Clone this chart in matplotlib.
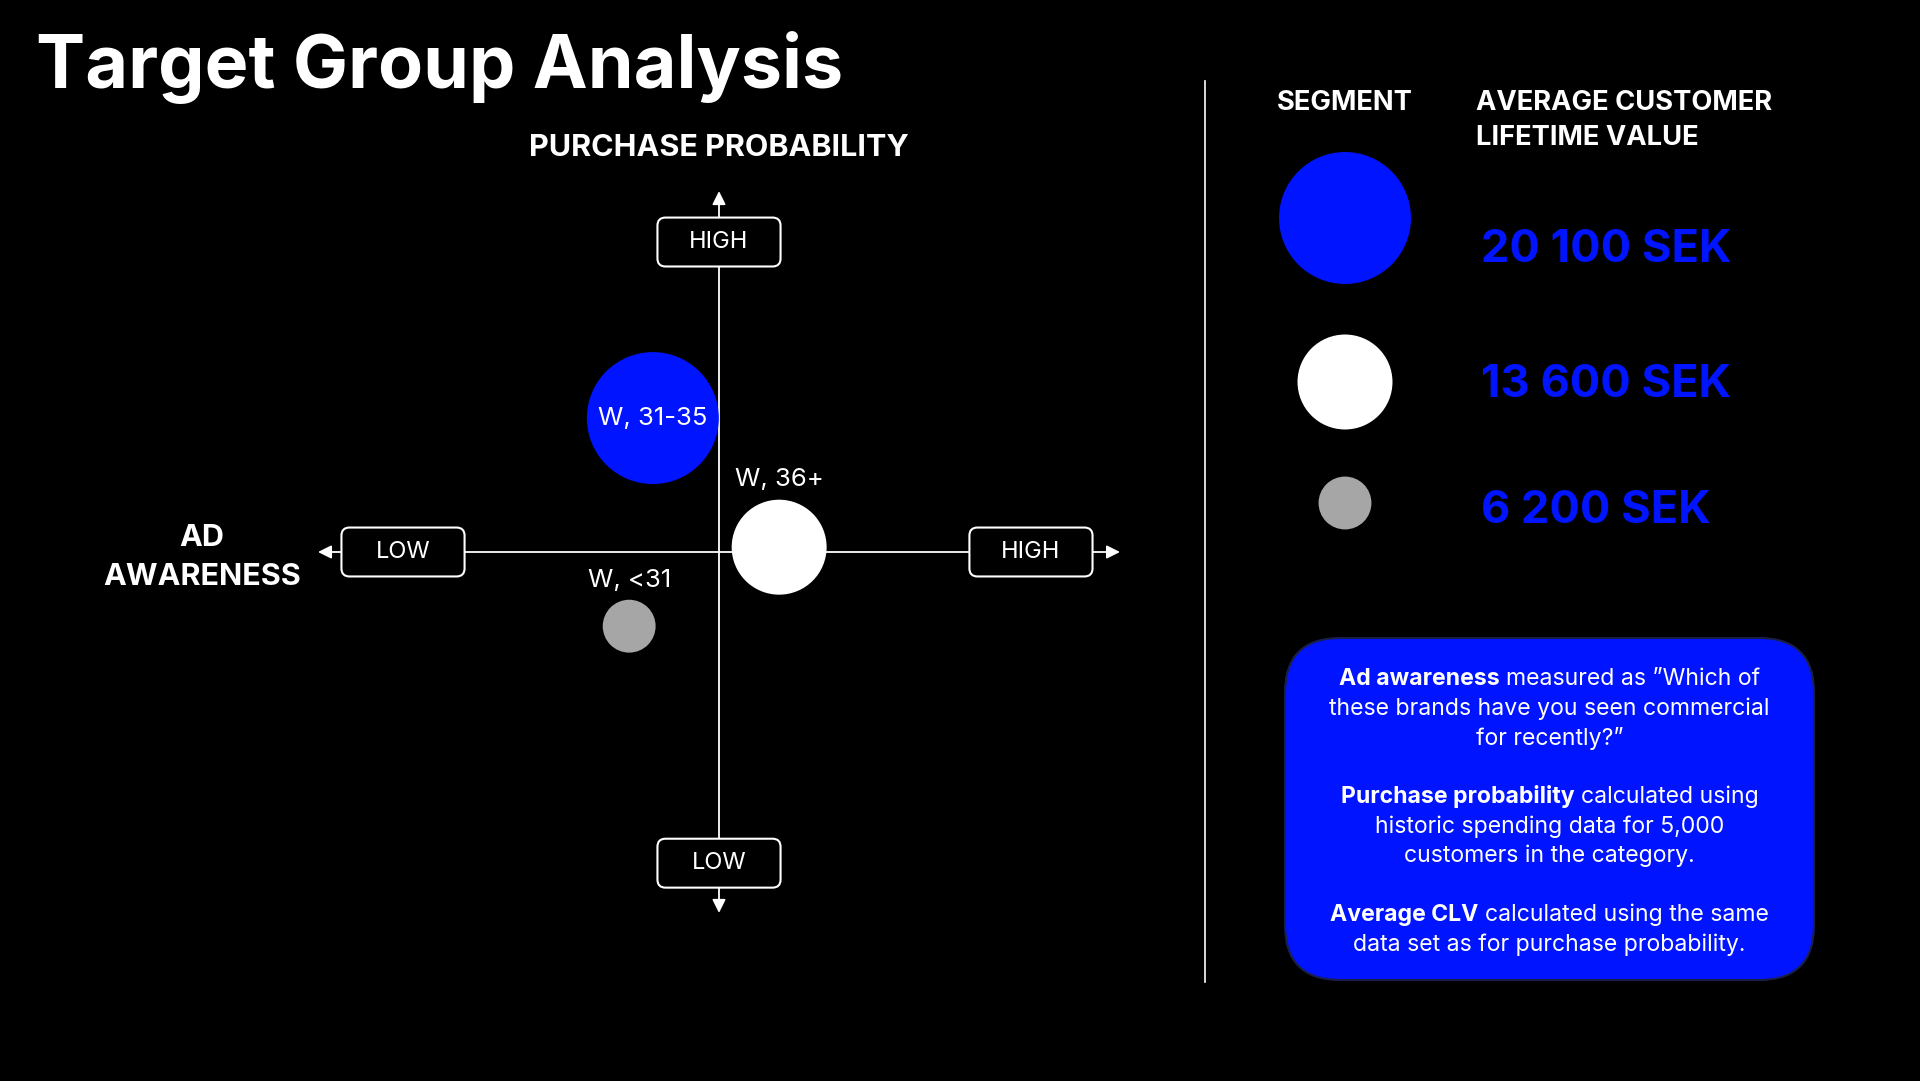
import matplotlib
matplotlib.use('Agg')
import matplotlib.pyplot as plt
from matplotlib.patches import FancyBboxPatch

plt.rcParams['font.family'] = ['Inter', 'DejaVu Sans']

# segments on the quadrant chart
segments = ['W, 31-35', 'W, 36+', 'W, <31']
ad_awareness = [-0.165, 0.15, -0.224]     # x, 0 = middle
purchase_prob = [0.334, 0.012, -0.185]    # y, 0 = middle
clv_sek = [20100, 13600, 6200]
clv_labels = ['20 100 SEK', '13 600 SEK', '6 200 SEK']
seg_colors = ['#0014FF', '#FFFFFF', '#A6A6A6']

BLUE = '#0014FF'

# note lines in the blue box: (bold part, regular part)
notes = [
    ('Ad awareness', 'measured as \u201dWhich of'),
    ('', 'these brands have you seen commercial'),
    ('', 'for recently?\u201d'),
    None,
    ('Purchase probability', 'calculated using'),
    ('', 'historic spending data for 5,000'),
    ('', 'customers in the category.'),
    None,
    ('Average CLV', 'calculated using the same'),
    ('', 'data set as for purchase probability.'),
]


def bubble_size(v):
    # diameter in px grows with CLV
    d_px = 17.6 + 0.00569 * v
    d_pt = d_px * 72 / 100
    return d_pt ** 2


fig = plt.figure(figsize=(19.2, 10.81), dpi=100, facecolor='black')

# background axes in pixel coords for the layout
bg = fig.add_axes([0, 0, 1, 1])
bg.set_xlim(0, 1920)
bg.set_ylim(1081, 0)
bg.axis('off')

# quadrant axes
ax = fig.add_axes([318 / 1920, 128 / 1081, 802 / 1920, 802 / 1081])
ax.set_xlim(-1, 1)
ax.set_ylim(-1, 1)
ax.axis('off')
ax.patch.set_alpha(0)

#########################################################################
# title + axis titles
#########################################################################
bg.text(36, 68, 'Target Group Analysis', color='white', fontsize=53,
        fontweight='bold', ha='left', va='center')
bg.text(719, 148, 'PURCHASE PROBABILITY', color='white', fontsize=22,
        fontweight='bold', ha='center', va='center')
bg.text(202, 538, 'AD', color='white', fontsize=22, fontweight='bold',
        ha='center', va='center')
bg.text(202, 577, 'AWARENESS', color='white', fontsize=22, fontweight='bold',
        ha='center', va='center')

#########################################################################
# quadrant
#########################################################################
arrow = dict(arrowstyle='<|-|>,head_length=0.5,head_width=0.25', color='white',
             lw=1.3, shrinkA=0, shrinkB=0, mutation_scale=16)
ax.annotate('', xy=(1.0, 0), xytext=(-1.0, 0), arrowprops=arrow, zorder=1)
ax.annotate('', xy=(0, 0.9), xytext=(0, -0.9), arrowprops=arrow, zorder=1)

bw, bh = 0.307, 0.122
for label, cx, cy in [('HIGH', 0, 0.773), ('LOW', 0, -0.776),
                      ('LOW', -0.788, 0), ('HIGH', 0.778, 0)]:
    ax.add_patch(FancyBboxPatch((cx - bw / 2, cy - bh / 2), bw, bh,
                                boxstyle='round,pad=0,rounding_size=0.02',
                                fc='black', ec='white', lw=1.5, zorder=3))
    ax.text(cx, cy, label, color='white', fontsize=17, ha='center',
            va='center', zorder=4)

ax.scatter(ad_awareness, purchase_prob, s=[bubble_size(v) for v in clv_sek],
           c=seg_colors, linewidths=0, zorder=5)

ax.text(ad_awareness[0], purchase_prob[0], segments[0], color='white',
        fontsize=18.5, ha='center', va='center', zorder=6)
ax.text(ad_awareness[1], 0.182, segments[1], color='white', fontsize=18.5,
        ha='center', va='center', zorder=6)
ax.text(ad_awareness[2], -0.07, segments[2], color='white', fontsize=18.5,
        ha='center', va='center', zorder=6)

#########################################################################
# legend
#########################################################################
bg.plot([1205, 1205], [81, 982], color='white', lw=1.2)
bg.text(1345, 103, 'SEGMENT', color='white', fontsize=19.7, fontweight='bold',
        ha='center', va='center')
bg.text(1476, 103, 'AVERAGE CUSTOMER', color='white', fontsize=19.7,
        fontweight='bold', ha='left', va='center')
bg.text(1476, 138, 'LIFETIME VALUE', color='white', fontsize=19.7,
        fontweight='bold', ha='left', va='center')

leg_y = [218, 382, 503]
val_y = [250, 385, 511]
bg.scatter([1345] * 3, leg_y, s=[bubble_size(v) for v in clv_sek],
           c=seg_colors, linewidths=0, zorder=5)
for lab, y in zip(clv_labels, val_y):
    bg.text(1481, y, lab, color=BLUE, fontsize=32.5, fontweight='bold',
            ha='left', va='center')

#########################################################################
# note box
#########################################################################
bg.add_patch(FancyBboxPatch((1285, 638), 529, 342,
                            boxstyle='round,pad=0,rounding_size=55',
                            fc=BLUE, ec='#1a1f4a', lw=1.5, zorder=2))

renderer = fig.canvas.get_renderer()
FS = 16.6


def text_w(s, weight):
    t = bg.text(0, 0, s, fontsize=FS, fontweight=weight)
    w = t.get_window_extent(renderer).width
    t.remove()
    return w


space_w = text_w('x x', 'normal') - text_w('xx', 'normal')
cx = 1549.5
y0, dy = 679, 29.5
for i, line in enumerate(notes):
    if line is None:
        continue
    y = y0 + i * dy
    bold, reg = line
    wb = text_w(bold, 'bold') if bold else 0
    wr = text_w(reg, 'normal')
    total = wb + wr + (space_w if bold else 0)
    x = cx - total / 2
    if bold:
        bg.text(x, y, bold, color='white', fontsize=FS, fontweight='bold',
                ha='left', va='center', zorder=3)
        x += wb + space_w
    bg.text(x, y, reg, color='white', fontsize=FS, ha='left', va='center',
            zorder=3)

plt.savefig('out.png', dpi=100, facecolor='black')
